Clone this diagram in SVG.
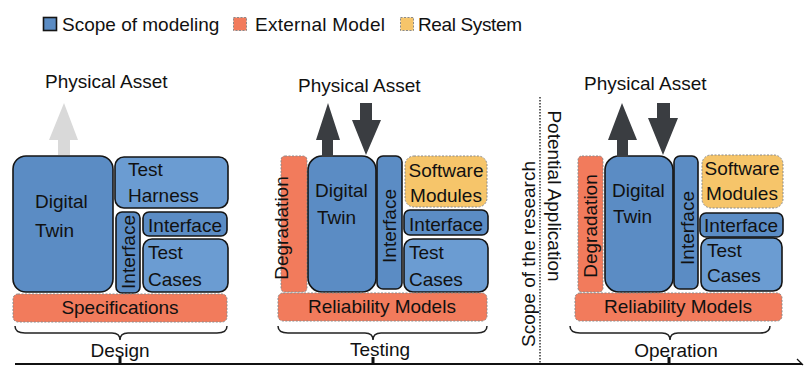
<svg xmlns="http://www.w3.org/2000/svg" width="805" height="367" viewBox="0 0 805 367">
<style>
.t{font-family:"Liberation Sans",Arial,sans-serif;font-size:19px;fill:#111}
.m{text-anchor:middle}
.b1{fill:#5b8cc4;stroke:#151515;stroke-width:1.6}
.b2{fill:#6b9cd2;stroke:#151515;stroke-width:1.6}
.rd{fill:#f27b5c;stroke:#8a8a8a;stroke-width:1;stroke-dasharray:2 1.5}
.yl{fill:#f6c56a;stroke:#8a8a8a;stroke-width:1;stroke-dasharray:2 1.5}
.br{fill:none;stroke:#222;stroke-width:1.5}
.dk{fill:#3a3d41}
</style>
<rect width="805" height="367" fill="#fff"/>

<g id="legend">
  <rect x="43.5" y="17.5" width="13" height="13" class="b1" stroke-width="1.2"/>
  <text class="t" x="62" y="31">Scope of modeling</text>
  <rect x="233.5" y="17.5" width="13" height="13" class="rd"/>
  <text class="t" x="255" y="31" textLength="130">External Model</text>
  <rect x="400.5" y="17.5" width="13" height="13" class="yl"/>
  <text class="t" x="418" y="31" textLength="104">Real System</text>
</g>

<g id="design">
  <text class="t" x="45" y="88">Physical Asset</text>
  <g id="design-digital-twin"><rect x="13" y="156" width="100" height="136" rx="13" class="b1"/>
    <text class="t" x="35" y="208">Digital</text><text class="t" x="35" y="237">Twin</text></g>
  <g id="design-test-harness"><rect x="115" y="157" width="113" height="51" rx="9" class="b2"/>
    <text class="t" x="128" y="176">Test</text><text class="t" x="128" y="202">Harness</text></g>
  <g id="design-interface-v"><rect x="116" y="212" width="24" height="81" rx="6" class="b1"/>
    <text class="t m" transform="translate(135,252) rotate(-90)">Interface</text></g>
  <g id="design-interface-h"><rect x="143" y="212" width="84" height="24" rx="6" class="b1"/>
    <text class="t m" x="185" y="232">Interface</text></g>
  <g id="design-test-cases"><rect x="143" y="239" width="85" height="53" rx="9" class="b2"/>
    <text class="t" x="148" y="259">Test</text><text class="t" x="148" y="286">Cases</text></g>
  <g id="design-specifications"><rect x="13" y="294" width="214" height="28" rx="5" class="rd"/>
    <text class="t m" x="120" y="314">Specifications</text></g>
  <path class="br" d="M15,326 Q15,333 25,333 L112,333 Q120,333 120,340 Q120,333 128,333 L217,333 Q227,333 227,326"/>
  <text class="t m" x="120" y="357">Design</text>
</g>

<g id="testing">
  <text class="t" x="298" y="92">Physical Asset</text>
  <g id="testing-degradation"><rect x="281" y="156" width="26" height="136" rx="4" class="rd"/>
    <text class="t m" transform="translate(288,228) rotate(-90)">Degradation</text></g>
  <g id="testing-digital-twin"><rect x="308" y="156" width="68" height="136" rx="14" class="b1"/>
    <text class="t" x="315" y="197">Digital</text><text class="t" x="317" y="224">Twin</text></g>
  <g id="testing-interface-v"><rect x="377" y="156" width="25" height="133" rx="6" class="b1"/>
    <text class="t m" transform="translate(396,226) rotate(-90)">Interface</text></g>
  <g id="testing-software"><rect x="405" y="156" width="82" height="51" rx="9" class="yl"/>
    <text class="t m" x="446" y="177">Software</text><text class="t m" x="446" y="202">Modules</text></g>
  <g id="testing-interface-h"><rect x="404" y="210" width="84" height="25" rx="6" class="b1"/>
    <text class="t m" x="446" y="231">Interface</text></g>
  <g id="testing-test-cases"><rect x="404" y="239" width="84" height="53" rx="9" class="b2"/>
    <text class="t" x="409" y="259">Test</text><text class="t" x="409" y="286">Cases</text></g>
  <g id="testing-reliability"><rect x="278" y="293" width="209" height="28" rx="5" class="rd"/>
    <text class="t m" x="382" y="313">Reliability Models</text></g>
  <path class="br" d="M278,326 Q278,333 288,333 L365,333 Q373,333 373,340 Q373,333 381,333 L477,333 Q487,333 487,326"/>
  <text class="t m" x="380" y="356">Testing</text>
</g>

<g id="separator">
  <line x1="540" y1="97" x2="540" y2="364" stroke="#333" stroke-width="1.5" stroke-dasharray="1.5 1.5"/>
  <text class="t m" transform="translate(535,254) rotate(-90)">Scope of the research</text>
  <text class="t m" transform="translate(548,196) rotate(90)">Potential Application</text>
</g>

<g id="operation">
  <text class="t" x="584" y="90">Physical Asset</text>
  <g id="operation-degradation"><rect x="578" y="156" width="25" height="136" rx="4" class="rd"/>
    <text class="t m" transform="translate(597,226) rotate(-90)">Degradation</text></g>
  <g id="operation-digital-twin"><rect x="605" y="156" width="68" height="136" rx="14" class="b1"/>
    <text class="t" x="612" y="197">Digital</text><text class="t" x="613" y="223">Twin</text></g>
  <g id="operation-interface-v"><rect x="674" y="156" width="24" height="133" rx="6" class="b1"/>
    <text class="t m" transform="translate(694,228) rotate(-90)">Interface</text></g>
  <g id="operation-software"><rect x="702" y="155" width="81" height="53" rx="9" class="yl"/>
    <text class="t m" x="742" y="175">Software</text><text class="t m" x="742" y="200">Modules</text></g>
  <g id="operation-interface-h"><rect x="700" y="213" width="83" height="24" rx="6" class="b1"/>
    <text class="t m" x="741" y="232">Interface</text></g>
  <g id="operation-test-cases"><rect x="701" y="238" width="81" height="53" rx="9" class="b2"/>
    <text class="t" x="707" y="257">Test</text><text class="t" x="707" y="282">Cases</text></g>
  <g id="operation-reliability"><rect x="575" y="293" width="207" height="28" rx="5" class="rd"/>
    <text class="t m" x="678" y="313">Reliability Models</text></g>
  <path class="br" d="M570,326 Q570,333 580,333 L662,333 Q670,333 670,340 Q670,333 678,333 L760,333 Q770,333 770,326"/>
  <text class="t m" x="676" y="357">Operation</text>
</g>

<g id="connectors">
  <polygon fill="#d9d9d9" points="64,103 78,140 70,140 70,155 58,155 58,140 49,140"/>
  <polygon class="dk" points="328,103 340,140 333,140 333,157 322,157 322,140 316,140"/>
  <polygon class="dk" points="360,103 372,103 372,120 381,120 366,155 352,120 360,120"/>
  <polygon class="dk" points="622,103 637,140 628,140 628,157 617,157 617,140 608,140"/>
  <polygon class="dk" points="657,103 670,103 670,118 678,118 663,155 648,118 657,118"/>
</g>

<g id="timeline">
  <line x1="15" y1="364" x2="802" y2="364" stroke="#111" stroke-width="2"/>
  <line x1="803" y1="365" x2="797" y2="359" stroke="#111" stroke-width="1.2"/>
  <rect x="118.5" y="357" width="3" height="7" fill="#111"/>
  <rect x="371.5" y="357" width="3" height="7" fill="#111"/>
  <rect x="667.5" y="357" width="3" height="7" fill="#111"/>
</g>
</svg>
